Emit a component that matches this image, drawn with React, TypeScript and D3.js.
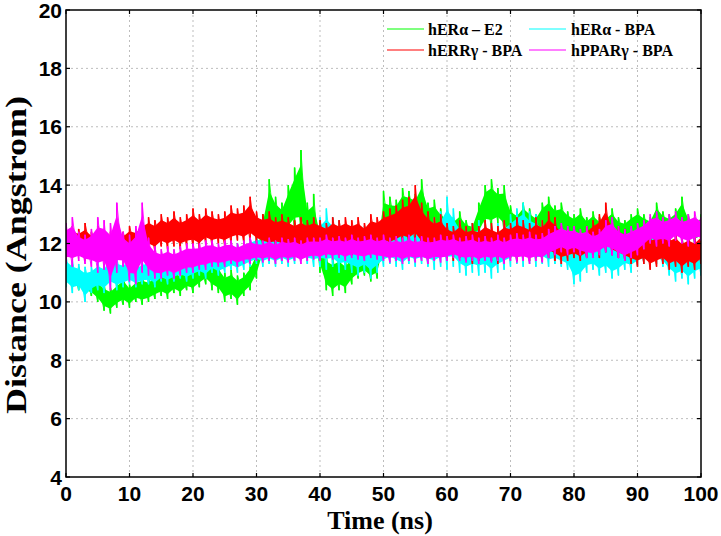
import React from "react";
import * as d3 from "d3";

const TIME_NS = [0,1,2,3,4,5,6,7,8,9,10,11,12,13,14,15,16,17,18,19,20,21,22,23,24,25,26,27,28,29,30,31,32,33,34,35,36,37,38,39,40,41,42,43,44,45,46,47,48,49,50,51,52,53,54,55,56,57,58,59,60,61,62,63,64,65,66,67,68,69,70,71,72,73,74,75,76,77,78,79,80,81,82,83,84,85,86,87,88,89,90,91,92,93,94,95,96,97,98,99,100];

// hERα – E2 (green): per-ns low / high of the fluctuation band
const E2_LO = [10.6,10.5,10.4,10.3,10.2,10.0,9.7,9.6,9.8,9.9, 9.8,10.0,9.9,10.0,10.1,10.2,10.1,10.3,10.2,10.4, 10.3,10.5,10.6,10.4,10.3,10.0,10.1,9.9,10.2,10.4, 10.8,11.4,12.0,12.2,12.0,12.3,12.5,12.4,11.8,11.5, 11.0,10.4,10.2,10.4,10.3,10.6,10.8,10.9,10.7,10.8, 11.5,12.0,12.3,12.4,12.5,12.4,12.6,12.3,12.2,12.0, 11.9,12.0,12.1,11.9,12.0,12.2,12.6,12.5,12.7,12.4, 12.1,12.2,12.3,12.1,12.2,12.3,12.4,12.3,12.2,12.3, 12.1,12.2,12.1,12.2,12.0,12.1,12.2,12.0,12.1,12.2, 12.1,12.2,12.1,12.3,12.2,12.1,12.2,12.3,12.1,12.0, 12.1];
const E2_HI = [11.4,11.3,11.2,11.0,10.9,10.8,10.6,10.5,10.7,10.9, 10.6,10.8,10.9,10.8,11.0,11.1,11.0,11.2,11.0,11.2, 11.3,11.4,11.8,11.6,11.3,11.0,11.1,10.9,11.0,11.3, 11.8,13.0,14.2,13.6,13.4,14.0,14.6,15.2,13.4,13.7, 12.6,11.6,11.5,11.6,11.4,11.7,11.8,11.9,11.8,12.0, 13.8,13.6,13.5,13.9,13.8,13.7,14.2,13.4,13.5,13.2, 13.0,12.9,13.1,12.8,12.7,13.4,14.0,14.2,13.9,14.0, 13.3,13.1,13.4,13.2,13.0,13.4,13.6,13.3,13.4,13.1, 13.0,13.2,12.9,13.1,12.9,13.0,13.2,12.9,12.8,13.0, 13.2,13.0,12.9,13.4,13.1,13.0,13.2,13.6,13.0,12.9, 13.0];

// hERα - BPA (cyan)
const CYAN_LO = [10.5,10.3,10.4,10.0,10.3,10.4,10.3,10.5,10.4,10.5, 10.6,10.5,10.6,10.6,10.5,10.7,10.6,10.7,10.8,10.7, 10.8,10.9,10.8,11.0,10.9,11.0,11.1,11.0,11.1,11.2, 11.3,11.2,11.3,11.2,11.3,11.2,11.3,11.4,11.3,11.2, 11.2,11.1,11.2,11.0,11.1,11.0,10.9,11.0,10.8,11.0, 11.2,11.3,11.2,11.1,11.3,11.2,11.3,11.2,11.1,11.2, 11.1,11.2,11.0,10.9,11.0,10.9,11.0,10.8,11.0,11.1, 11.2,11.3,11.2,11.3,11.2,11.3,11.2,11.3,11.2,11.1, 10.6,10.7,11.0,11.1,10.9,11.0,10.8,10.9,11.1,11.0, 11.2,11.3,11.2,11.3,11.2,10.9,10.7,10.8,10.6,10.8, 10.9];
const CYAN_HI = [11.6,11.4,11.3,11.2,11.2,11.4,11.3,11.6,11.5,11.4, 11.5,11.3,11.4,11.5,11.4,11.5,11.5,11.6,11.6,11.6, 11.7,11.8,11.7,11.9,11.8,11.9,12.0,12.0,12.1,12.2, 12.3,12.3,12.4,12.3,12.5,12.4,12.5,12.6,12.5,12.7, 12.9,13.2,12.9,12.8,12.6,12.5,12.4,12.6,12.4,12.5, 12.6,12.7,12.6,12.5,12.6,12.7,12.6,12.8,12.9,13.1, 13.6,13.2,12.8,12.6,12.7,12.8,12.7,12.6,12.7,12.8, 13.0,13.2,13.4,13.1,13.0,12.8,12.6,12.5,12.4,12.3, 12.2,12.3,12.4,12.3,12.2,12.4,12.2,12.3,12.4,12.5, 12.4,12.5,12.6,12.5,12.4,12.3,12.2,12.3,12.1,12.2, 12.3];

// hERRγ - BPA (red)
const RED_LO = [11.3,11.5,11.6,11.4,11.6,11.7,11.5,11.6,11.7,11.5, 11.6,11.7,11.6,11.8,11.7,11.9,11.8,11.9,11.8,11.9, 11.9,11.8,12.0,11.9,12.0,11.9,12.0,12.1,12.0,12.1, 12.0,11.9,11.8,11.9,11.8,11.8,11.7,11.8,11.7,11.8, 11.7,11.6,11.7,11.6,11.7,11.6,11.7,11.6,11.7,11.8, 11.9,11.8,11.9,12.0,11.9,12.0,11.8,11.7,11.6,11.7, 11.5,11.4,11.5,11.4,11.3,11.4,11.5,11.4,11.3,11.4, 11.5,11.4,11.5,11.4,11.5,11.4,11.5,11.4,11.3,11.4, 11.5,11.4,11.5,11.6,11.5,11.7,11.6,11.5,11.4,11.3, 11.2,11.3,11.1,11.2,11.3,11.1,11.2,11.0,11.2,11.1, 11.3];
const RED_HI = [12.4,12.6,12.5,12.7,12.4,12.6,12.5,12.4,12.6,12.4, 12.6,12.5,12.8,12.9,12.8,13.0,12.9,13.1,12.9,13.0, 13.2,13.0,13.2,13.1,13.0,13.1,13.3,13.2,13.3,13.6, 13.1,13.0,13.1,12.9,13.0,12.9,12.8,12.9,12.8,12.9, 12.8,12.7,12.9,12.8,12.9,12.8,12.9,12.7,13.0,12.9, 13.1,13.2,13.3,13.5,13.6,14.0,13.4,13.1,12.9,13.0, 12.7,12.6,12.8,12.6,12.7,12.6,12.8,12.7,12.6,12.8, 12.7,12.9,12.8,12.7,12.9,12.8,13.1,12.9,12.6,12.5, 12.4,12.3,12.6,12.8,13.0,13.4,12.7,12.6,12.5,12.4, 12.4,12.5,12.3,12.4,12.5,12.3,12.4,12.2,12.3,12.2, 12.4];

// hPPARγ - BPA (magenta)
const MAG_LO = [11.3,11.2,11.4,11.3,11.2,11.0,11.1,10.4,11.0,11.2, 10.7,10.6,11.0,10.9,10.8,10.8,10.9,10.8,10.9,11.0, 11.0,11.1,11.1,11.2,11.2,11.2,11.3,11.2,11.3,11.3, 11.4,11.35,11.4,11.3,11.4,11.35,11.4,11.3,11.4,11.45, 11.4,11.5,11.45,11.5,11.4,11.5,11.45,11.4,11.5,11.45, 11.4,11.35,11.4,11.3,11.4,11.35,11.4,11.3,11.4,11.35, 11.4,11.5,11.4,11.35,11.4,11.3,11.4,11.35,11.4,11.3, 11.4,11.35,11.4,11.3,11.4,11.35,11.5,11.6,11.7,11.6, 11.7,11.6,11.5,11.5,11.6,11.7,11.6,11.5,11.4,11.5, 11.6,11.8,12.0,11.9,12.0,11.9,12.1,12.0,11.9,12.0, 12.1];
const MAG_HI = [12.7,12.9,12.4,12.3,12.5,12.9,12.8,12.7,13.4,12.4, 12.3,12.6,13.4,12.2,11.9,11.8,11.9,11.8,11.9,12.0, 12.0,12.0,12.1,12.1,12.0,12.1,12.1,12.0,12.1,12.2, 12.1,12.1,12.2,12.1,12.2,12.15,12.2,12.1,12.2,12.2, 12.2,12.3,12.2,12.25,12.2,12.3,12.2,12.25,12.3,12.2, 12.3,12.2,12.25,12.2,12.3,12.2,12.25,12.2,12.2,12.3, 12.25,12.3,12.2,12.25,12.3,12.2,12.25,12.2,12.3,12.2, 12.3,12.35,12.3,12.4,12.3,12.35,12.5,12.6,12.7,12.6, 12.6,12.5,12.6,12.4,12.5,12.8,12.9,12.6,12.5,12.6, 12.7,12.8,13.0,13.1,12.9,13.0,13.1,12.9,13.0,13.1, 12.9];

const SERIES_NAMES = ["hERα – E2", "hERα - BPA", "hERRγ - BPA", "hPPARγ - BPA"];
const SERIES_COLORS = ["#00ff00", "#00ffff", "#ff0000", "#ff00ff"];
const SERIES_LO = [E2_LO, CYAN_LO, RED_LO, MAG_LO];
const SERIES_HI = [E2_HI, CYAN_HI, RED_HI, MAG_HI];

const X_TICKS = [0, 10, 20, 30, 40, 50, 60, 70, 80, 90, 100];
const Y_TICKS = [4, 6, 8, 10, 12, 14, 16, 18, 20];
const X_TITLE = "Time (ns)";
const Y_TITLE = "Distance (Angstrom)";

const W = 721, H = 536;
const PL = 66, PR = 701, PT = 10, PB = 477;
const CORE = 0.18; // share of the band trimmed off each side for the dense core

export default function App() {
  const x = d3.scaleLinear().domain([0, 100]).range([PL, PR]);
  const y = d3.scaleLinear().domain([4, 20]).range([PB, PT]);
  const line = d3.line<[number, number]>().x(d => x(d[0])).y(d => y(d[1]));

  const series = SERIES_LO.map((lo, s) => {
    const hi = SERIES_HI[s];
    // zig-zag through the read low / high values
    const pts: [number, number][] = [];
    TIME_NS.forEach((t, i) => {
      pts.push([t, lo[i]]);
      pts.push([t, hi[i]]);
    });
    // vertical whiskers from low to high at each sample
    const whiskers = TIME_NS.map((t, i) => `M${x(t)},${y(lo[i])}V${y(hi[i])}`).join("");
    const core = d3.area<number>()
      .x(t => x(t))
      .y0((_, i) => y(lo[i] + CORE * (hi[i] - lo[i])))
      .y1((_, i) => y(hi[i] - CORE * (hi[i] - lo[i])))(TIME_NS) as string;
    return { zig: line(pts) as string, whiskers, core };
  });

  const tickFont = "'Liberation Sans', Arial, sans-serif";
  const titleFont = "'Liberation Serif', 'Times New Roman', serif";
  const TL = 4;
  const legendItems = [
    { i: 0, lx: 387, tx: 428, cy: 29 },
    { i: 1, lx: 529, tx: 571, cy: 29 },
    { i: 2, lx: 387, tx: 428, cy: 50 },
    { i: 3, lx: 529, tx: 571, cy: 50 },
  ];

  return (
    <svg width={W} height={H} style={{ position: "absolute", left: 0, top: 0, background: "#fff" }}>
      <defs>
        <clipPath id="plotclip">
          <rect x={PL} y={PT} width={PR - PL} height={PB - PT} />
        </clipPath>
      </defs>
      <rect x={0} y={0} width={W} height={H} fill="#fff" />
      {/* grid */}
      <g stroke="#bdbdbd" strokeWidth={1} strokeDasharray="2,3">
        {X_TICKS.filter(t => t > 0 && t < 100).map(t => (
          <line key={"gx" + t} x1={x(t)} x2={x(t)} y1={PT} y2={PB} />
        ))}
        {Y_TICKS.filter(t => t > 4 && t < 20).map(t => (
          <line key={"gy" + t} x1={PL} x2={PR} y1={y(t)} y2={y(t)} />
        ))}
      </g>
      {/* data */}
      <g clipPath="url(#plotclip)">
        {series.map((p, s) => (
          <g key={s}>
            <path d={p.core} fill={SERIES_COLORS[s]} stroke="none" />
            <path d={p.zig} fill="none" stroke={SERIES_COLORS[s]} strokeWidth={0.9} />
            <path d={p.whiskers} fill="none" stroke={SERIES_COLORS[s]} strokeWidth={1.6} />
          </g>
        ))}
      </g>
      {/* frame */}
      <rect x={PL} y={PT} width={PR - PL} height={PB - PT} fill="none" stroke="#000" strokeWidth={1.5} />
      <g stroke="#000" strokeWidth={1.2}>
        {X_TICKS.map(t => (
          <g key={"tx" + t}>
            <line x1={x(t)} x2={x(t)} y1={PB} y2={PB - TL} />
            <line x1={x(t)} x2={x(t)} y1={PT} y2={PT + TL} />
          </g>
        ))}
        {Y_TICKS.map(t => (
          <g key={"ty" + t}>
            <line x1={PL} x2={PL + TL} y1={y(t)} y2={y(t)} />
            <line x1={PR} x2={PR - TL} y1={y(t)} y2={y(t)} />
          </g>
        ))}
      </g>
      {/* tick labels */}
      <g fontFamily={tickFont} fontWeight="bold" fontSize={21} fill="#000">
        {X_TICKS.map(t => (
          <text key={"lx" + t} x={x(t)} y={501} textAnchor="middle">{t}</text>
        ))}
        {Y_TICKS.map(t => (
          <text key={"ly" + t} x={62} y={y(t)} dy="0.36em" textAnchor="end">{t}</text>
        ))}
      </g>
      {/* axis titles */}
      <text x={380} y={529} textAnchor="middle" fontFamily={titleFont} fontWeight="bold" fontSize={26}>{X_TITLE}</text>
      <text transform={`translate(26, 255) rotate(-90)`} textAnchor="middle" fontFamily={titleFont} fontWeight="bold" fontSize={29} textLength={318} lengthAdjust="spacingAndGlyphs">{Y_TITLE}</text>
      {/* legend */}
      <g fontFamily={titleFont} fontWeight="bold" fontSize={16}>
        {legendItems.map(it => (
          <g key={"lg" + it.i}>
            <line x1={it.lx} x2={it.lx + 37} y1={it.cy} y2={it.cy} stroke={SERIES_COLORS[it.i]} strokeWidth={1.2} />
            <text x={it.tx} y={it.cy} dy="0.35em">{SERIES_NAMES[it.i]}</text>
          </g>
        ))}
      </g>
    </svg>
  );
}
